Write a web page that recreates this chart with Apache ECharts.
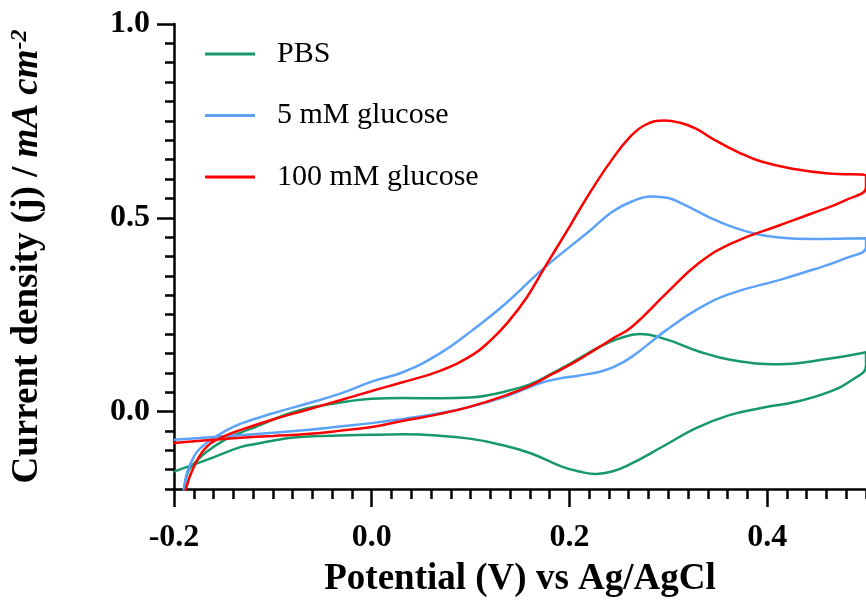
<!DOCTYPE html>
<html>
<head>
<meta charset="utf-8">
<script src="https://cdn.jsdelivr.net/npm/echarts@6/dist/echarts.min.js"></script>
<style>
  html, body { margin: 0; padding: 0; background: #fff; }
  #main { width: 866px; height: 605px; }
</style>
</head>
<body>
<div id="main"></div>
<script>
// potential (V) vs current density (mA cm-2)
var pbsForward = [[-0.193,-0.24],[-0.19,-0.2],[-0.185,-0.151],[-0.176,-0.125],[-0.167,-0.104],[-0.15,-0.075],[-0.133,-0.055],[-0.116,-0.038],[-0.099,-0.02],[-0.082,-0.004],[-0.066,0.008],[-0.049,0.016],[-0.025,0.026],[0,0.033],[0.032,0.035],[0.069,0.034],[0.099,0.036],[0.12,0.043],[0.137,0.053],[0.16,0.07],[0.18,0.095],[0.203,0.127],[0.23,0.166],[0.25,0.188],[0.271,0.2],[0.298,0.186],[0.331,0.155],[0.364,0.133],[0.412,0.122],[0.462,0.136],[0.5,0.153]];
var pbsReverse = [[0.5,0.118],[0.485,0.08],[0.462,0.05],[0.429,0.025],[0.394,0.009],[0.361,-0.01],[0.328,-0.043],[0.294,-0.091],[0.26,-0.138],[0.243,-0.155],[0.227,-0.161],[0.21,-0.155],[0.193,-0.143],[0.16,-0.107],[0.126,-0.083],[0.099,-0.07],[0.066,-0.062],[0.032,-0.059],[0,-0.06],[-0.049,-0.063],[-0.082,-0.068],[-0.099,-0.075],[-0.116,-0.083],[-0.133,-0.092],[-0.167,-0.125],[-0.2,-0.155]];

var glc5Forward = [[-0.191,-0.24],[-0.19,-0.2],[-0.18,-0.117],[-0.167,-0.081],[-0.15,-0.053],[-0.133,-0.032],[-0.099,-0.004],[-0.066,0.02],[-0.032,0.046],[0,0.077],[0.032,0.102],[0.069,0.15],[0.102,0.21],[0.137,0.282],[0.175,0.372],[0.22,0.465],[0.243,0.515],[0.263,0.542],[0.283,0.555],[0.3,0.551],[0.315,0.535],[0.344,0.498],[0.364,0.477],[0.389,0.458],[0.412,0.449],[0.445,0.445],[0.5,0.447]];
var glc5Reverse = [[0.5,0.424],[0.479,0.395],[0.445,0.365],[0.412,0.339],[0.364,0.305],[0.331,0.266],[0.298,0.21],[0.263,0.141],[0.245,0.115],[0.23,0.102],[0.21,0.093],[0.19,0.085],[0.17,0.073],[0.137,0.04],[0.099,0.012],[0.066,-0.006],[0.032,-0.019],[0,-0.03],[-0.033,-0.039],[-0.066,-0.048],[-0.1,-0.055],[-0.133,-0.061],[-0.167,-0.067],[-0.2,-0.073]];

var glc100Forward = [[-0.19,-0.24],[-0.188,-0.2],[-0.18,-0.143],[-0.167,-0.091],[-0.15,-0.065],[-0.133,-0.048],[-0.099,-0.02],[-0.066,0.004],[-0.032,0.029],[0,0.053],[0.032,0.076],[0.069,0.105],[0.102,0.146],[0.12,0.183],[0.137,0.228],[0.157,0.295],[0.175,0.372],[0.198,0.468],[0.21,0.52],[0.227,0.59],[0.243,0.65],[0.26,0.705],[0.277,0.74],[0.296,0.751],[0.312,0.745],[0.328,0.73],[0.344,0.705],[0.371,0.669],[0.394,0.645],[0.429,0.625],[0.462,0.614],[0.5,0.609]];
var glc100Reverse = [[0.5,0.579],[0.479,0.545],[0.445,0.511],[0.412,0.48],[0.364,0.434],[0.331,0.383],[0.298,0.305],[0.263,0.218],[0.245,0.19],[0.23,0.166],[0.203,0.124],[0.18,0.093],[0.16,0.066],[0.137,0.043],[0.099,0.012],[0.066,-0.008],[0.032,-0.024],[0,-0.04],[-0.033,-0.05],[-0.066,-0.058],[-0.1,-0.063],[-0.133,-0.068],[-0.167,-0.074],[-0.2,-0.081]];

var seriesNames = ['PBS', '5 mM glucose', '100 mM glucose'];
var seriesColors = ['#17986a', '#5ba2f8', '#ff0000'];
var xMajorTicks = [-0.2, 0.0, 0.2, 0.4];
var yMajorTicks = [0.0, 0.5, 1.0];

var font = 'Liberation Serif, Times New Roman, serif';

var chart = echarts.init(document.getElementById('main'), null, { renderer: 'canvas' });

// show=true: the visible axis with major ticks; show=false: overlay that only draws the minor ticks
function makeX(show) {
    return {
        type: 'value', position: 'bottom', min: -0.2, max: 0.5,
        interval: show ? 0.2 : 0.02,
        splitLine: { show: false },
        axisLine: { show: show, onZero: false, lineStyle: { color: '#000', width: 2.5 } },
        axisTick: show
            ? { show: true, length: 18, lineStyle: { color: '#000', width: 2.5 }, customValues: xMajorTicks }
            : { show: true, length: 10, lineStyle: { color: '#000', width: 2.5 } },
        axisLabel: show ? {
            show: true, margin: 33, customValues: xMajorTicks,
            fontFamily: font, fontWeight: 'bold', fontSize: 32, color: '#000',
            formatter: function (v) { return v.toFixed(1); }
        } : { show: false },
        name: show ? 'Potential (V) vs Ag/AgCl' : '',
        nameLocation: 'middle', nameGap: 72,
        nameTextStyle: { fontFamily: font, fontWeight: 'bold', fontSize: 37, color: '#000' }
    };
}

function makeY(show) {
    return {
        type: 'value', position: 'left', min: -0.2, max: 1.0,
        interval: show ? 0.5 : 0.05,
        splitLine: { show: false },
        axisLine: { show: show, onZero: false, lineStyle: { color: '#000', width: 2.5 } },
        axisTick: show
            ? { show: true, length: 17, lineStyle: { color: '#000', width: 2.5 }, customValues: yMajorTicks }
            : { show: true, length: 9, lineStyle: { color: '#000', width: 2.5 } },
        axisLabel: show ? {
            show: true, margin: 24, customValues: yMajorTicks,
            fontFamily: font, fontWeight: 'bold', fontSize: 32, color: '#000',
            formatter: function (v) { return v.toFixed(1); }
        } : { show: false },
        name: show ? 'Current density (j) / {i|mA cm}{sup|-2}' : '',
        nameLocation: 'middle', nameGap: 128,
        nameTextStyle: {
            fontFamily: font, fontWeight: 'bold', fontSize: 37, color: '#000',
            rich: {
                i: { fontFamily: font, fontWeight: 'bold', fontStyle: 'italic', fontSize: 37, color: '#000' },
                sup: { fontFamily: font, fontWeight: 'bold', fontStyle: 'italic', fontSize: 24, color: '#000', verticalAlign: 'top', padding: [0, 0, 14, 0] }
            }
        }
    };
}

var option = {
    backgroundColor: '#fff',
    animation: false,
    grid: { left: 173, right: -2, top: 24, bottom: 116, containLabel: false },
    legend: {
        orient: 'vertical', left: 200, top: 34,
        icon: 'rect', itemWidth: 50, itemHeight: 3, itemGap: 31.5,
        data: seriesNames,
        textStyle: { fontFamily: font, fontSize: 30, color: '#000', lineHeight: 30, padding: [0, 0, 0, 17] }
    },
    xAxis: [makeX(true), makeX(false)],
    yAxis: [makeY(true), makeY(false)],
    series: [
        { name: seriesNames[0], data: pbsForward.concat(pbsReverse) },
        { name: seriesNames[1], data: glc5Forward.concat(glc5Reverse) },
        { name: seriesNames[2], data: glc100Forward.concat(glc100Reverse) }
    ].map(function (s, i) {
        return {
            name: s.name, type: 'line', data: s.data,
            xAxisIndex: 0, yAxisIndex: 0,
            smooth: 0.45, symbol: 'none', showSymbol: false, clip: true,
            color: seriesColors[i],
            lineStyle: { color: seriesColors[i], width: 2.5 }
        };
    })
};

chart.setOption(option);
</script>
</body>
</html>
